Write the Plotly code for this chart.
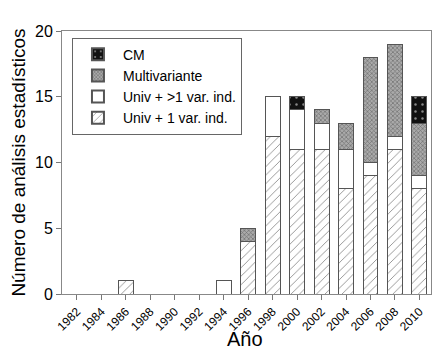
import plotly.graph_objects as go

years = [1982, 1984, 1986, 1988, 1990, 1992, 1994, 1996, 1998, 2000, 2002, 2004, 2006, 2008, 2010]
univ_1 = [0, 0, 1, 0, 0, 0, 0, 4, 12, 11, 11, 8, 9, 11, 8]
univ_gt1 = [0, 0, 0, 0, 0, 0, 1, 0, 3, 3, 2, 3, 1, 1, 1]
multivariante = [0, 0, 0, 0, 0, 0, 0, 1, 0, 0, 1, 2, 8, 7, 4]
cm = [0, 0, 0, 0, 0, 0, 0, 0, 0, 1, 0, 0, 0, 0, 2]
tick_labels = [str(y) for y in years]

outline = dict(color="#555555", width=1)
fig = go.Figure()
fig.add_bar(x=years, y=univ_1, name="Univ + 1 var. ind.", width=1.22,
            marker=dict(color="white", line=outline,
                        pattern=dict(shape="/", fgcolor="#222222", bgcolor="white", size=6, solidity=0.15)))
fig.add_bar(x=years, y=univ_gt1, name="Univ + >1 var. ind.", width=1.22,
            marker=dict(color="white", line=outline))
fig.add_bar(x=years, y=multivariante, name="Multivariante", width=1.22,
            marker=dict(color="white", line=outline,
                        pattern=dict(shape="x", fgcolor="#333333", bgcolor="#aaaaaa", size=3, solidity=0.4)))
fig.add_bar(x=years, y=cm, name="CM", width=1.22,
            marker=dict(color="#111111", line=outline,
                        pattern=dict(shape=".", fgcolor="white", bgcolor="#111111", size=7, solidity=0.1)))

fig.update_layout(
    barmode="stack",
    width=440, height=358,
    margin=dict(l=62, r=9, t=31, b=64),
    paper_bgcolor="white", plot_bgcolor="white",
    font=dict(family="Liberation Sans, Arial, sans-serif", color="black", size=13),
    showlegend=True,
    legend=dict(x=0.027, y=0.975, xanchor="left", yanchor="top", traceorder="reversed",
                bordercolor="#666666", borderwidth=1, bgcolor="white",
                font=dict(size=14), itemsizing="constant", tracegroupgap=0,
                itemwidth=40),
    annotations=[dict(text="Año", xref="paper", yref="paper", x=0.495, y=-0.171,
                      xanchor="center", yanchor="middle", showarrow=False,
                      font=dict(size=20))],
)
fig.update_xaxes(range=[1980.78, 2010.95], tickmode="array", tickvals=years, ticktext=tick_labels,
                 tickangle=-45, ticks="outside", ticklen=5, tickcolor="#777777",
                 showline=True, linecolor="#888888", linewidth=1, mirror=True, showgrid=False,
                 zeroline=False, automargin=False,
                 tickfont=dict(size=12))
fig.update_yaxes(range=[0, 20], tickvals=[0, 5, 10, 15, 20], ticks="outside", ticklen=5,
                 tickcolor="#777777", showline=True, linecolor="#888888", linewidth=1, mirror=True,
                 showgrid=False, zeroline=False, automargin=False,
                 title=dict(text="Número de análisis estadísticos", font=dict(size=19), standoff=4),
                 tickfont=dict(size=16))

fig.write_html("out.html", config={"displayModeBar": False},
               post_script="document.body.style.margin='0';")
